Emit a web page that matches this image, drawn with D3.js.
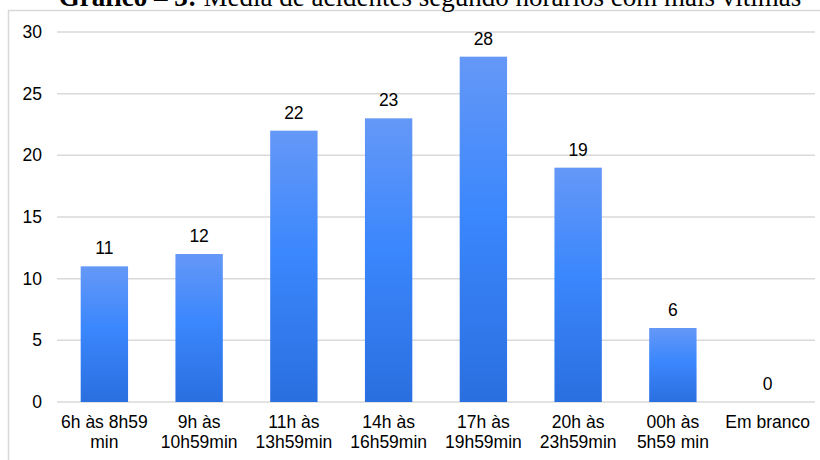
<!DOCTYPE html>
<html>
  <head>
    <meta charset="utf-8" />
    <script src="https://d3js.org/d3.v7.min.js"></script>
    <style>
      body { margin: 0; background: #fff; }
      svg { display: block; }
    </style>
  </head>
  <body>
    <svg id="chart" width="820" height="460"></svg>
    <script>
      // data
      const categories = [
        ["6h às 8h59", "min"],
        ["9h às", "10h59min"],
        ["11h às", "13h59min"],
        ["14h às", "16h59min"],
        ["17h às", "19h59min"],
        ["20h às", "23h59min"],
        ["00h às", "5h59 min"],
        ["Em branco"]
      ];
      const values = [11, 12, 22, 23, 28, 19, 6, 0];
      const yTicks = [0, 5, 10, 15, 20, 25, 30];

      const svg = d3.select("#chart");
      const margin = { top: 32, right: 5, bottom: 58, left: 57 };
      const width = +svg.attr("width");
      const height = +svg.attr("height");
      const labelFont = "'Liberation Sans', Arial, sans-serif";

      // gradient for the bars
      const grad = svg.append("defs").append("linearGradient")
        .attr("id", "barGrad")
        .attr("x1", 0).attr("y1", 0).attr("x2", 0).attr("y2", 1);
      grad.append("stop").attr("offset", "0%").attr("stop-color", "#6598f7");
      grad.append("stop").attr("offset", "45%").attr("stop-color", "#3b87fd");
      grad.append("stop").attr("offset", "100%").attr("stop-color", "#2a6fe0");

      // outer frame
      svg.append("rect")
        .attr("x", 8.5).attr("y", 10.5)
        .attr("width", 900).attr("height", 500)
        .attr("fill", "none")
        .attr("stroke", "#d9d9d9")
        .attr("stroke-width", 1.5);

      // title (cut off at the top as in the reference)
      const title = svg.append("text")
        .attr("x", 430).attr("y", 6)
        .attr("text-anchor", "middle")
        .style("font-family", "'Liberation Serif', 'Times New Roman', serif")
        .style("font-size", "27px")
        .attr("fill", "#000");
      title.append("tspan").attr("font-weight", "bold").text("Gráfico – 3:");
      title.append("tspan").text(" Média de acidentes segundo horários com mais vítimas");

      const x = d3.scaleBand()
        .domain(d3.range(categories.length))
        .range([margin.left, width - margin.right])
        .paddingInner(0.5)
        .paddingOuter(0.25);

      const y = d3.scaleLinear()
        .domain([0, 30])
        .range([height - margin.bottom, margin.top]);

      // gridlines
      svg.append("g")
        .selectAll("line")
        .data(yTicks)
        .join("line")
        .attr("x1", margin.left)
        .attr("x2", width - margin.right)
        .attr("y1", d => y(d))
        .attr("y2", d => y(d))
        .attr("stroke", "#d9d9d9")
        .attr("stroke-width", 1.5);

      // y axis labels
      svg.append("g")
        .selectAll("text")
        .data(yTicks)
        .join("text")
        .attr("x", 42)
        .attr("y", d => y(d))
        .attr("dy", "0.35em")
        .attr("text-anchor", "end")
        .style("font-family", labelFont)
        .style("font-size", "17.5px")
        .attr("fill", "#000")
        .text(d => d);

      // bars
      svg.append("g")
        .selectAll("rect")
        .data(values)
        .join("rect")
        .attr("x", (d, i) => x(i))
        .attr("width", x.bandwidth())
        .attr("y", d => y(d))
        .attr("height", d => y(0) - y(d))
        .attr("fill", "url(#barGrad)");

      // value labels
      svg.append("g")
        .selectAll("text")
        .data(values)
        .join("text")
        .attr("x", (d, i) => x(i) + x.bandwidth() / 2)
        .attr("y", d => y(d) - 12)
        .attr("text-anchor", "middle")
        .style("font-family", labelFont)
        .style("font-size", "17.5px")
        .attr("fill", "#000")
        .text(d => d);

      // category labels
      svg.append("g")
        .selectAll("text")
        .data(categories)
        .join("text")
        .attr("x", (d, i) => x(i) + x.bandwidth() / 2)
        .attr("y", 428)
        .attr("text-anchor", "middle")
        .style("font-family", labelFont)
        .style("font-size", "17.5px")
        .attr("fill", "#000")
        .selectAll("tspan")
        .data(d => d)
        .join("tspan")
        .attr("x", function () { return this.parentNode.getAttribute("x"); })
        .attr("dy", (d, i) => (i === 0 ? 0 : 19.5))
        .text(d => d);
    </script>
  </body>
</html>
